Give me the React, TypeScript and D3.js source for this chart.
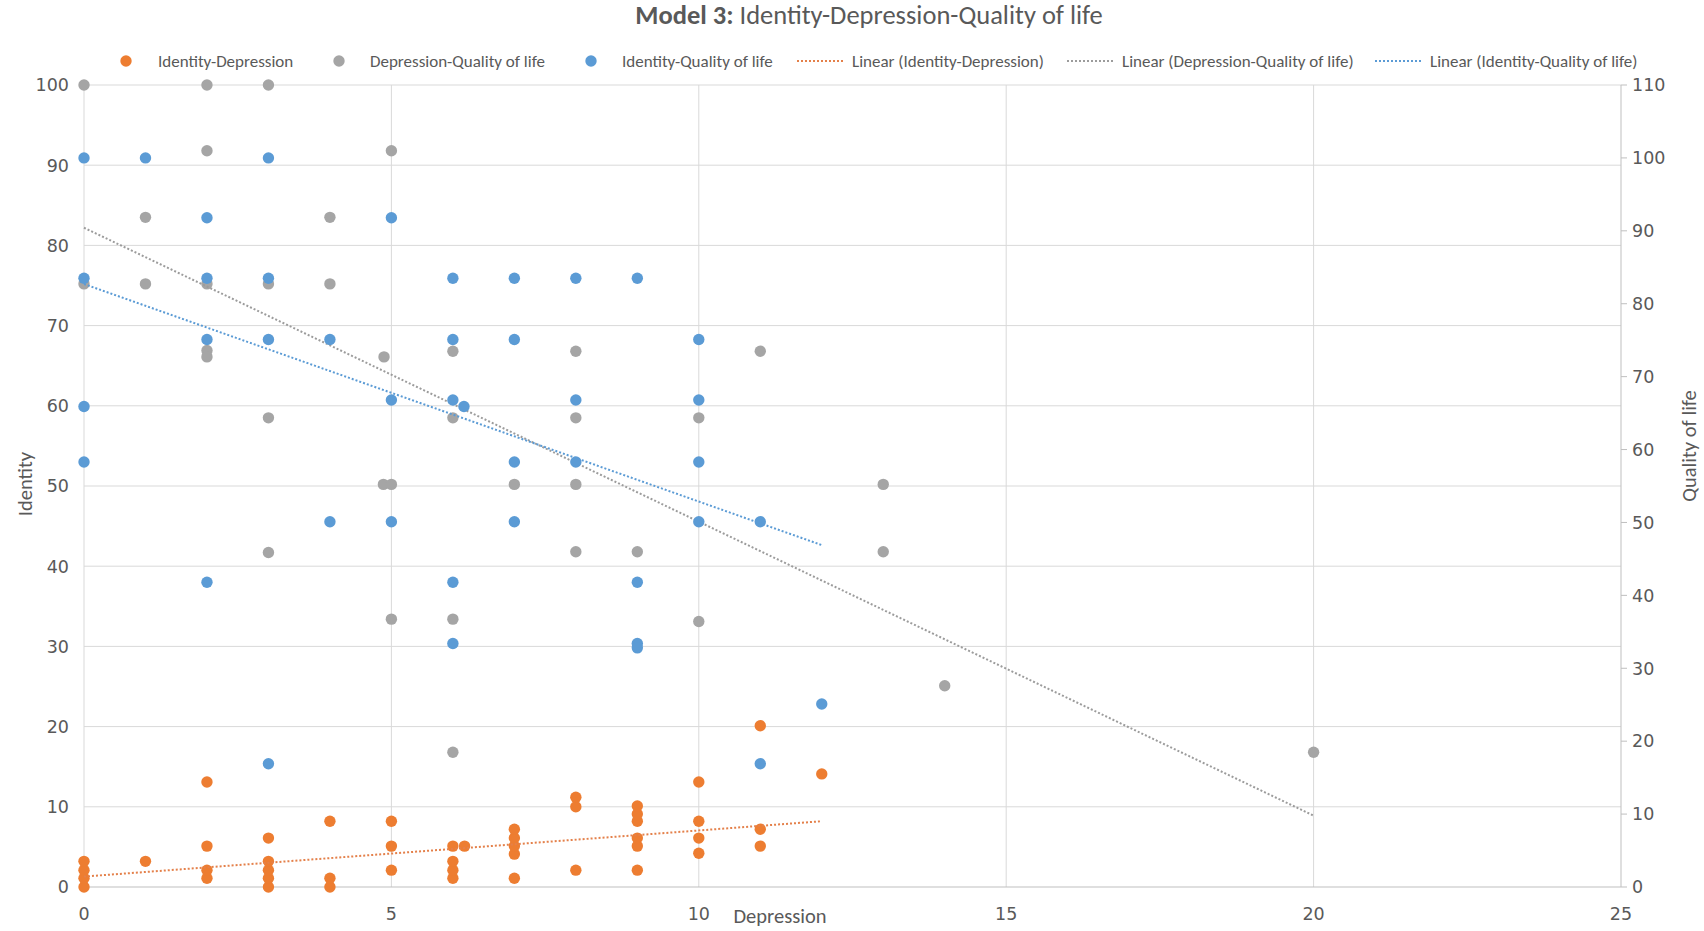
import * as d3 from 'd3';

const WIDTH = 1704;
const HEIGHT = 931;

// Depression (x) vs Identity (left axis)
const identityDepression: [number, number][] = [
  [0, 0], [0, 1.1], [0, 2.1], [0, 3.2],
  [1, 3.2],
  [2, 1.1], [2, 2.1], [2, 5.1], [2, 13.1],
  [3, 0], [3, 1.1], [3, 2.1], [3, 3.2], [3, 6.1],
  [4, 0], [4, 1.1], [4, 8.2],
  [5, 2.1], [5, 5.1], [5, 8.2],
  [6, 1.1], [6, 2.1], [6, 3.2], [6, 5.1], [6.19, 5.1],
  [7, 1.1], [7, 4.1], [7, 5.1], [7, 6.1], [7, 7.2],
  [8, 2.1], [8, 10.0], [8, 11.2],
  [9, 2.1], [9, 5.1], [9, 6.1], [9, 8.2], [9, 9.1], [9, 10.1],
  [10, 4.2], [10, 6.1], [10, 8.2], [10, 13.1],
  [11, 5.1], [11, 7.2], [11, 20.1],
  [12, 14.1],
];

// Depression (x) vs Quality of life, plotted on the left axis
const depressionQuality: [number, number][] = [
  [0, 100], [0, 75.2],
  [1, 83.5], [1, 75.2],
  [2, 100], [2, 91.8], [2, 75.2], [2, 66.9], [2, 66.1],
  [3, 100], [3, 75.2], [3, 58.5], [3, 41.7],
  [4, 83.5], [4, 75.2],
  [4.88, 66.1], [4.87, 50.2], [5, 50.2], [5, 91.8], [5, 33.4],
  [6, 66.8], [6, 58.5], [6, 33.4], [6, 16.8],
  [7, 50.2],
  [8, 66.8], [8, 58.5], [8, 50.2], [8, 41.8],
  [9, 41.8],
  [10, 58.5], [10, 33.1],
  [11, 66.8],
  [13, 50.2], [13, 41.8],
  [14, 25.1],
  [20, 16.8],
];

// Identity-Quality of life, plotted on the right (secondary) axis
const identityQuality: [number, number][] = [
  [0, 100], [0, 83.5], [0, 65.9], [0, 58.3],
  [1, 100],
  [2, 91.8], [2, 83.5], [2, 75.1], [2, 41.8],
  [3, 100], [3, 83.5], [3, 75.1], [3, 16.9],
  [4, 75.1], [4, 50.1],
  [5, 91.8], [5, 66.8], [5, 50.1],
  [6, 83.5], [6, 75.1], [6, 66.8], [6.18, 65.9], [6, 41.8], [6, 33.4],
  [7, 83.5], [7, 75.1], [7, 58.3], [7, 50.1],
  [8, 83.5], [8, 66.8], [8, 58.3],
  [9, 83.5], [9, 41.8], [9, 33.4], [9, 32.8],
  [10, 75.1], [10, 66.8], [10, 58.3], [10, 50.1],
  [11, 50.1], [11, 16.9],
  [12, 25.1],
];

// linear trendlines, endpoints
const trendIdDepX = [0, 12];
const trendIdDepY = [1.3, 8.2];
const trendDepQolX = [0, 20];
const trendDepQolY = [82.2, 8.9];
const trendIdQolX = [0, 12];
const trendIdQolY = [82.7, 46.9];

const legendLabels = [
  'Identity-Depression',
  'Depression-Quality of life',
  'Identity-Quality of life',
  'Linear (Identity-Depression)',
  'Linear (Depression-Quality of life)',
  'Linear (Identity-Quality of life)',
];

const ORANGE = '#ed7d31';
const GRAY = '#a5a5a5';
const BLUE = '#5b9bd5';
const TEXT = '#595959';
const GRID = '#d9d9d9';
const AXIS = '#bfbfbf';
const LABEL_FONT = 'Carlito, Roboto, sans-serif';
const TICK_FONT = '"DejaVu Sans", sans-serif';

const margin = { left: 84, right: 83, top: 85, bottom: 44 };

export default function App() {
  const x = d3.scaleLinear().domain([0, 25]).range([margin.left, WIDTH - margin.right]);
  const yLeft = d3.scaleLinear().domain([0, 100]).range([HEIGHT - margin.bottom, margin.top]);
  const yRight = d3.scaleLinear().domain([0, 110]).range([HEIGHT - margin.bottom, margin.top]);

  const leftTicks = yLeft.ticks(10);
  const rightTicks = yRight.ticks(11);
  const xTicks = x.ticks(5);

  const line = (xs: number[], ys: number[], y: d3.ScaleLinear<number, number>) =>
    d3.line<number>().x((d) => x(xs[d])).y((d) => y(ys[d]))(xs.map((_, i) => i)) || '';

  const r = 5.7;
  const dash = '2 2';

  const series = [
    { data: identityDepression, color: ORANGE, y: yLeft, tx: trendIdDepX, ty: trendIdDepY, tc: '#e4804a' },
    { data: depressionQuality, color: GRAY, y: yLeft, tx: trendDepQolX, ty: trendDepQolY, tc: '#9c9c9c' },
    { data: identityQuality, color: BLUE, y: yRight, tx: trendIdQolX, ty: trendIdQolY, tc: '#5b9bd5' },
  ];

  // legend layout
  const legendY = 61;
  const legendMarkerX = [126, 339, 591];
  const legendLineX = [797, 1067, 1375];
  const legendTextX = [158, 370, 622, 852, 1122, 1430];
  const legendColors = [ORANGE, GRAY, BLUE, '#e4804a', '#9c9c9c', BLUE];

  const x0 = x(0);
  const x1 = x(25);
  const yBottom = yLeft(0);

  return (
    <svg
      width={WIDTH}
      height={HEIGHT}
      style={{ position: 'absolute', left: 0, top: 0, background: '#fff' }}
    >
      <rect width={WIDTH} height={HEIGHT} fill="#fff" />

      {/* title */}
      <text
        x={869}
        y={24}
        textAnchor="middle"
        fontFamily={LABEL_FONT}
        fontSize={26.5}
        fill={TEXT}
      >
        <tspan fontWeight="bold">Model 3:</tspan>
        <tspan> Identity-Depression-Quality of life</tspan>
      </text>

      {/* legend */}
      <g fontFamily={LABEL_FONT} fontSize={17} fill={TEXT}>
        {legendLabels.map((label, i) => (
          <g key={label}>
            {i < 3 ? (
              <circle cx={legendMarkerX[i]} cy={legendY} r={r} fill={legendColors[i]} />
            ) : (
              <line
                x1={legendLineX[i - 3]}
                x2={legendLineX[i - 3] + 47}
                y1={legendY}
                y2={legendY}
                stroke={legendColors[i]}
                strokeWidth={2}
                strokeDasharray={dash}
              />
            )}
            <text x={legendTextX[i]} y={legendY} dy="0.35em">
              {label}
            </text>
          </g>
        ))}
      </g>

      {/* gridlines */}
      <g stroke={GRID} strokeWidth={1}>
        {leftTicks
          .filter((t) => t > 0)
          .map((t) => (
            <line key={`h${t}`} x1={x0} x2={x1} y1={yLeft(t)} y2={yLeft(t)} />
          ))}
        {xTicks
          .filter((t) => t > 0 && t < 25)
          .map((t) => (
            <line key={`v${t}`} x1={x(t)} x2={x(t)} y1={yLeft(100)} y2={yBottom} />
          ))}
        <line x1={x0} x2={x0} y1={yLeft(100)} y2={yBottom} />
      </g>

      {/* axes */}
      <g stroke={AXIS} strokeWidth={1}>
        <line x1={x0} x2={x1} y1={yBottom} y2={yBottom} />
        <line x1={x1} x2={x1} y1={yRight(110)} y2={yBottom} />
        {rightTicks.map((t) => (
          <line key={`rt${t}`} x1={x1} x2={x1 + 6} y1={yRight(t)} y2={yRight(t)} />
        ))}
      </g>

      {/* tick labels */}
      <g fontFamily={TICK_FONT} fontSize={17.5} fill={TEXT}>
        {leftTicks.map((t) => (
          <text key={`lt${t}`} x={69} y={yLeft(t)} dy="0.36em" textAnchor="end">
            {t}
          </text>
        ))}
        {rightTicks.map((t) => (
          <text key={`rl${t}`} x={1632} y={yRight(t)} dy="0.36em" textAnchor="start">
            {t}
          </text>
        ))}
        {xTicks.map((t) => (
          <text key={`xt${t}`} x={x(t)} y={914} dy="0.36em" textAnchor="middle">
            {t}
          </text>
        ))}
      </g>

      {/* axis titles */}
      <g fontFamily={LABEL_FONT} fontSize={20.5} fill={TEXT}>
        <text x={780} y={916} dy="0.35em" textAnchor="middle">
          Depression
        </text>
        <text transform="translate(24.5,484) rotate(-90)" dy="0.35em" textAnchor="middle">
          Identity
        </text>
        <text transform="translate(1688.5,446) rotate(-90)" dy="0.35em" textAnchor="middle">
          Quality of life
        </text>
      </g>

      {/* series with trendlines */}
      {series.map((s, si) => (
        <g key={si}>
          {s.data.map(([dx, dy], i) => (
            <circle key={i} cx={x(dx)} cy={s.y(dy)} r={r} fill={s.color} />
          ))}
          <path
            d={line(s.tx, s.ty, s.y)}
            fill="none"
            stroke={s.tc}
            strokeWidth={2}
            strokeDasharray={dash}
          />
        </g>
      ))}
    </svg>
  );
}
